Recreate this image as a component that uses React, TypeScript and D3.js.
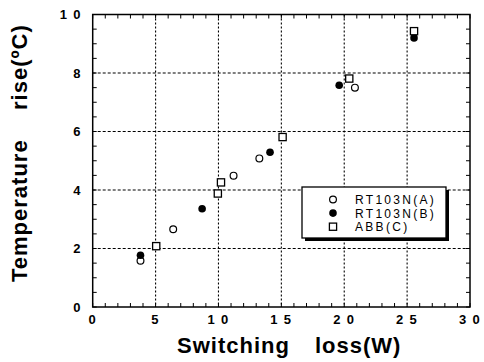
import React from "react";
import * as d3 from "d3";

// switching loss (W) vs temperature rise (ºC)
const xTickValues = [0, 5, 10, 15, 20, 25, 30];
const yTickValues = [0, 2, 4, 6, 8, 10];

const rt103nA: [number, number][] = [
  [3.8, 1.58], [6.4, 2.66], [11.2, 4.49], [13.25, 5.08], [20.85, 7.5],
];
const rt103nB: [number, number][] = [
  [3.8, 1.77], [8.7, 3.36], [14.1, 5.29], [19.6, 7.58], [25.55, 9.2],
];
const abbC: [number, number][] = [
  [5.05, 2.08], [9.95, 3.88], [10.2, 4.26], [15.1, 5.81], [20.4, 7.81], [25.55, 9.43],
];
const legendLabels = ["RT103N(A)", "RT103N(B)", "ABB(C)"];

const W = 484, H = 362;
const left = 92.7, right = 470, top = 14.5, bottom = 307;
const font = "'Liberation Sans', Arial, Helvetica, sans-serif";

// spaced digits like "1 0"
const spaced = (d: number) => String(d).split("").join(" ");

function Marker({ kind, x, y }: { kind: string; x: number; y: number }) {
  if (kind === "square")
    return <rect x={x - 3.6} y={y - 3.6} width={7.2} height={7.2} fill="#fff" stroke="#000" strokeWidth={1.3} />;
  if (kind === "filled") return <circle cx={x} cy={y} r={3.8} fill="#000" />;
  return <circle cx={x} cy={y} r={3.4} fill="#fff" stroke="#000" strokeWidth={1.2} />;
}

export default function App() {
  const x = d3.scaleLinear().domain([0, 30]).range([left, right]);
  const y = d3.scaleLinear().domain([0, 10]).range([bottom, top]);

  const xMinor = d3.range(0, 31, 1);
  const yMinor = d3.range(0, 10.01, 0.5);
  const tk = 4;

  const series = [
    { data: rt103nA, kind: "open" },
    { data: rt103nB, kind: "filled" },
    { data: abbC, kind: "square" },
  ];

  const lx = 302, ly = 187, lw = 144, lh = 51;

  return (
    <svg width={W} height={H} style={{ position: "absolute", left: 0, top: 0, background: "#fff" }}
      fontFamily={font}>
      {/* grid */}
      {xTickValues.slice(1, -1).map(v => (
        <line key={"gx" + v} x1={x(v)} x2={x(v)} y1={top} y2={bottom}
          stroke="#000" strokeWidth={1.1} strokeDasharray="2,2" />
      ))}
      {yTickValues.slice(1, -1).map(v => (
        <line key={"gy" + v} x1={left} x2={right} y1={y(v)} y2={y(v)}
          stroke="#000" strokeWidth={1.1} strokeDasharray="3,2" />
      ))}

      {/* minor ticks, inward on all four sides */}
      {xMinor.map(v => (
        <g key={"tx" + v} stroke="#000" strokeWidth={1}>
          <line x1={x(v)} x2={x(v)} y1={bottom} y2={bottom - tk} />
          <line x1={x(v)} x2={x(v)} y1={top} y2={top + tk} />
        </g>
      ))}
      {yMinor.map(v => (
        <g key={"ty" + v} stroke="#000" strokeWidth={1}>
          <line x1={left} x2={left + tk} y1={y(v)} y2={y(v)} />
          <line x1={right} x2={right - tk} y1={y(v)} y2={y(v)} />
        </g>
      ))}

      <rect x={left} y={top} width={right - left} height={bottom - top}
        fill="none" stroke="#000" strokeWidth={1.5} />

      {/* tick labels */}
      {xTickValues.map(v => (
        <text key={"lx" + v} x={x(v)} y={bottom + 17} textAnchor="middle"
          fontSize={13} fontWeight="bold" letterSpacing={1.3}>{spaced(v)}</text>
      ))}
      {yTickValues.map(v => (
        <text key={"ly" + v} x={left - 11} y={y(v) + 4.5} textAnchor="end"
          fontSize={13} fontWeight="bold" letterSpacing={1.3}>{spaced(v)}</text>
      ))}

      {/* points */}
      {series.map(s => s.data.map((d, i) => (
        <Marker key={s.kind + i} kind={s.kind} x={x(d[0])} y={y(d[1])} />
      )))}

      {/* legend */}
      <rect x={lx + 3} y={ly + 3} width={lw} height={lh} fill="#000" />
      <rect x={lx} y={ly} width={lw} height={lh} fill="#fff" stroke="#000" strokeWidth={1.3} />
      {legendLabels.map((t, i) => {
        const rowY = ly + 12.5 + i * 13.6;
        return (
          <g key={t}>
            <Marker kind={series[i].kind} x={333} y={rowY} />
            <text x={355} y={rowY + 4.5} fontSize={12} letterSpacing={2.3}>{t}</text>
          </g>
        );
      })}

      {/* axis titles */}
      <g fontSize={22} fontWeight="bold" letterSpacing={1}>
        <text x={177} y={353}>Switching</text>
        <text x={315} y={353}>loss(W)</text>
        <text transform="translate(27,282) rotate(-90)">Temperature</text>
        <text transform="translate(27,110) rotate(-90)">rise(ºC)</text>
      </g>
    </svg>
  );
}
